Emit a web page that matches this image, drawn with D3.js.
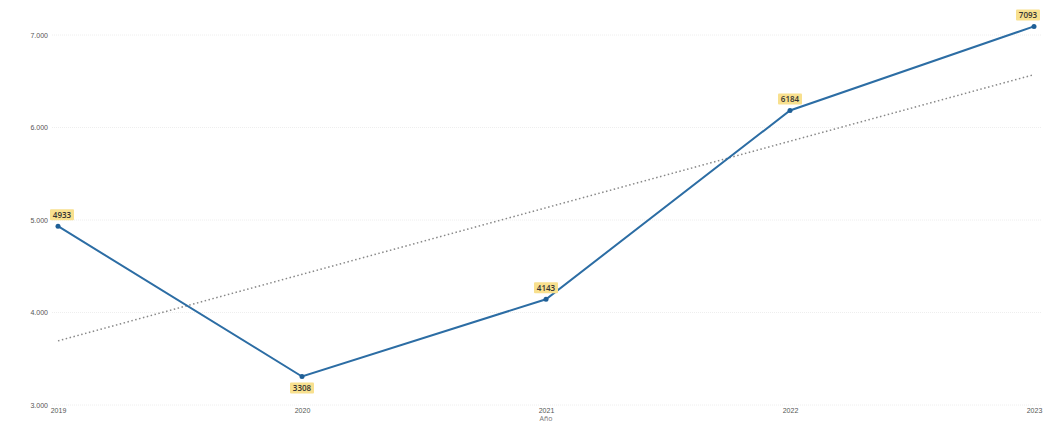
<!DOCTYPE html>
<html><head><meta charset="utf-8">
<script src="https://cdn.jsdelivr.net/npm/d3@7"></script>
<style>
html,body{margin:0;padding:0;background:#fff;overflow:hidden;}
svg{display:block;font-family:"Segoe UI","Open Sans","DejaVu Sans",sans-serif;}
</style></head>
<body><svg id="c" width="1048" height="423"></svg>
<script>
const years = ["2019","2020","2021","2022","2023"];
const values = [4933, 3308, 4143, 6184, 7093];
const yTicks = [3000, 4000, 5000, 6000, 7000];
const xTitle = "Año";

const svg = d3.select("#c");
const x = d3.scalePoint().domain(years).range([58, 1034]);
const y = d3.scaleLinear().domain([3000, 7000]).range([405, 35]);

// gridlines
svg.append("g").selectAll("line").data(yTicks).join("line")
  .attr("x1", 52).attr("x2", 1042)
  .attr("y1", d => y(d)).attr("y2", d => y(d))
  .attr("stroke", "#eeeeee").attr("stroke-width", 1).attr("stroke-dasharray", "1,1");

// y axis
const fmt = d => d3.format(",")(d).replace(/,/g, ".");
const yAxis = d3.axisLeft(y).tickValues(yTicks).tickFormat(fmt).tickSize(0).tickPadding(0);
const gy = svg.append("g").attr("transform", "translate(48,0)").call(yAxis);
gy.select(".domain").remove();
gy.selectAll("text").attr("fill", "#555").style("font-size", "7px");

// x axis
const xAxis = d3.axisBottom(x).tickSize(0).tickPadding(0);
const gx = svg.append("g").attr("transform", "translate(0,408)").call(xAxis);
gx.select(".domain").remove();
gx.selectAll("text").attr("fill", "#555").style("font-size", "7px");

svg.append("text").attr("x", x("2021")).attr("y", 421).attr("text-anchor", "middle")
  .attr("fill", "#777").style("font-size", "7px").text(xTitle);

// trend line (least squares)
const n = values.length;
const idx = values.map((v, i) => i);
const mx = d3.mean(idx), my = d3.mean(values);
const slope = d3.sum(idx, i => (i - mx) * (values[i] - my)) / d3.sum(idx, i => (i - mx) ** 2);
const inter = my - slope * mx;
svg.append("line")
  .attr("x1", x(years[0])).attr("y1", y(inter))
  .attr("x2", x(years[n - 1])).attr("y2", y(inter + slope * (n - 1)))
  .attr("stroke", "#888").attr("stroke-width", 1.5).attr("stroke-dasharray", "1.5,2.5");

// line
const line = d3.line().x((d, i) => x(years[i])).y(d => y(d));
svg.append("path").datum(values).attr("d", line)
  .attr("fill", "none").attr("stroke", "#2c6da4").attr("stroke-width", 2);

svg.append("g").selectAll("circle").data(values).join("circle")
  .attr("cx", (d, i) => x(years[i])).attr("cy", d => y(d)).attr("r", 2.5)
  .attr("fill", "#1f5f96");

// labels
const lg = svg.append("g");
values.forEach((v, i) => {
  const below = i > 0 && i < n - 1 && v < values[i - 1] && v < values[i + 1];
  const px = x(years[i]), py = y(v);
  const w = 24, h = 11;
  let cx = px + (i === 0 ? 4 : 0);
  if (cx + w / 2 > 1040) cx = 1040 - w / 2;
  const top = below ? py + 6 : py - 6 - h;
  lg.append("rect").attr("x", cx - w / 2).attr("y", top).attr("width", w).attr("height", h)
    .attr("fill", "#f8e08e").attr("rx", 1);
  lg.append("text").attr("x", cx).attr("y", top + h / 2 + 3).attr("text-anchor", "middle")
    .attr("fill", "#333").style("font-size", "8px").style("font-weight", "600").text(v);
});
</script></body></html>
